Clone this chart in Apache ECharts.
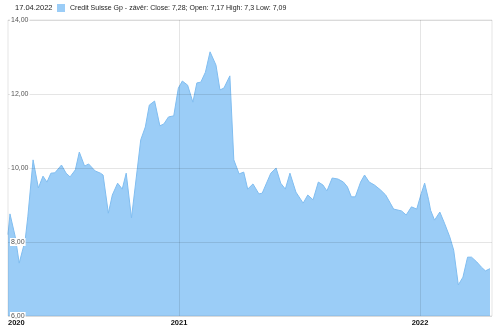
<!DOCTYPE html>
<html>
<head>
<meta charset="utf-8">
<script src="https://cdn.jsdelivr.net/npm/echarts@6/dist/echarts.min.js"></script>
<style>html,body{margin:0;padding:0;background:#fff}#c{width:500px;height:328px}</style>
</head>
<body>
<div id="c"></div>
<script>
var dates = ['2020-04-17','2020-04-20','2020-04-28','2020-05-04','2020-05-13','2020-05-17','2020-05-25','2020-06-02','2020-06-09','2020-06-15','2020-06-21','2020-06-27','2020-07-07','2020-07-14','2020-07-20','2020-07-28','2020-08-03','2020-08-11','2020-08-17','2020-08-27','2020-09-04','2020-09-08','2020-09-16','2020-09-22','2020-09-30','2020-10-07','2020-10-13','2020-10-21','2020-10-30','2020-11-04','2020-11-11','2020-11-17','2020-11-25','2020-12-03','2020-12-09','2020-12-16','2020-12-24','2020-12-31','2021-01-06','2021-01-14','2021-01-22','2021-01-28','2021-02-03','2021-02-10','2021-02-17','2021-02-26','2021-03-04','2021-03-10','2021-03-19','2021-03-25','2021-04-02','2021-04-09','2021-04-15','2021-04-23','2021-05-02','2021-05-07','2021-05-20','2021-05-28','2021-06-04','2021-06-11','2021-06-18','2021-06-27','2021-07-08','2021-07-15','2021-07-23','2021-07-31','2021-08-07','2021-08-13','2021-08-21','2021-08-30','2021-09-07','2021-09-13','2021-09-19','2021-09-25','2021-10-03','2021-10-09','2021-10-16','2021-10-24','2021-11-02','2021-11-10','2021-11-17','2021-11-22','2021-12-04','2021-12-11','2021-12-19','2021-12-27','2022-01-03','2022-01-08','2022-01-14','2022-01-17','2022-01-23','2022-01-31','2022-02-07','2022-02-15','2022-02-21','2022-02-28','2022-03-07','2022-03-14','2022-03-20','2022-03-28','2022-04-04','2022-04-10','2022-04-17'];
var closes = [8.20,8.76,8.14,7.43,8.05,8.68,10.22,9.46,9.78,9.62,9.86,9.87,10.08,9.86,9.76,9.95,10.43,10.05,10.11,9.92,9.86,9.81,8.78,9.27,9.59,9.43,9.86,8.65,10.00,10.76,11.11,11.70,11.81,11.14,11.19,11.38,11.41,12.16,12.35,12.24,11.78,12.30,12.32,12.59,13.14,12.78,12.11,12.16,12.49,10.22,9.84,9.89,9.43,9.57,9.30,9.32,9.86,10.00,9.59,9.43,9.86,9.35,9.05,9.27,9.14,9.62,9.54,9.38,9.73,9.70,9.62,9.49,9.22,9.22,9.62,9.81,9.62,9.54,9.41,9.27,9.05,8.89,8.84,8.73,8.95,8.89,9.32,9.59,9.14,8.86,8.59,8.81,8.51,8.14,7.78,6.84,7.05,7.59,7.59,7.46,7.32,7.22,7.28];
var yTicks = [6, 8, 10, 12, 14];
var xLabelDates = ['2020-04-17','2021-01-01','2022-01-01'];
var xLabelTexts = ['2020','2021','2022'];
var xGridDates = ['2021-01-01','2022-01-01'];
var seriesName = 'Credit Suisse Gp - závěr';
var headerDate = '17.04.2022';
var quote = {close: '7,28', open: '7,17', high: '7,3', low: '7,09'};

var font = 'Liberation Sans, Arial, sans-serif';
var gridColor = 'rgba(0,0,0,0.1)';
var chart = echarts.init(document.getElementById('c'), null, {renderer: 'canvas'});
function ts(s) { return Date.UTC(+s.slice(0, 4), +s.slice(5, 7) - 1, +s.slice(8, 10)); }
var data = dates.map(function (d, i) { return [ts(d), closes[i]]; });
var labelTs = xLabelDates.map(ts);

chart.setOption({
  animation: false,
  title: {
    text: headerDate, left: 15, top: 4, padding: 0,
    textStyle: {fontSize: 7.5, fontWeight: 'normal', color: '#222', fontFamily: font}
  },
  legend: {
    left: 57, top: 4, padding: 0, itemWidth: 8, itemHeight: 8, icon: 'rect',
    data: [seriesName],
    formatter: function (n) {
      return n + ': Close: ' + quote.close + '; Open: ' + quote.open + ' High: ' + quote.high + ' Low: ' + quote.low;
    },
    textStyle: {fontSize: 7, color: '#222', fontFamily: font}
  },
  grid: {left: 8, right: 8, top: 20, bottom: 12, show: true, borderColor: gridColor, borderWidth: 1, z: 3},
  xAxis: {
    type: 'value',
    min: ts('2020-04-17'), max: ts('2022-04-20'),
    axisLine: {show: false},
    axisTick: {show: false, customValues: xGridDates.map(ts)},
    splitLine: {show: true, lineStyle: {color: gridColor, width: 1}},
    axisLabel: {
      customValues: labelTs,
      alignMinLabel: 'left',
      margin: 3,
      fontSize: 7.5, fontWeight: 'bold', color: '#111', fontFamily: font,
      formatter: function (v) {
        var i = labelTs.indexOf(v);
        return i >= 0 ? xLabelTexts[i] : '';
      }
    },
    z: 3
  },
  yAxis: {
    type: 'value', min: yTicks[0], max: yTicks[yTicks.length - 1], interval: 2,
    axisLine: {show: false}, axisTick: {show: false},
    splitLine: {lineStyle: {color: gridColor}},
    axisLabel: {
      inside: true, margin: 2,
      fontSize: 7, color: '#555', fontFamily: font,
      backgroundColor: '#fff', padding: [1, 1, 0, 1],
      formatter: function (v) { return v.toFixed(2).replace('.', ','); }
    },
    z: 5
  },
  series: [{
    name: seriesName,
    type: 'line',
    data: data,
    symbol: 'none',
    lineStyle: {color: '#80bdf0', width: 1},
    itemStyle: {color: '#9bcdf7'},
    areaStyle: {color: '#9bcdf7', opacity: 1, origin: 'start'},
    z: 2
  }]
});
</script>
</body>
</html>
